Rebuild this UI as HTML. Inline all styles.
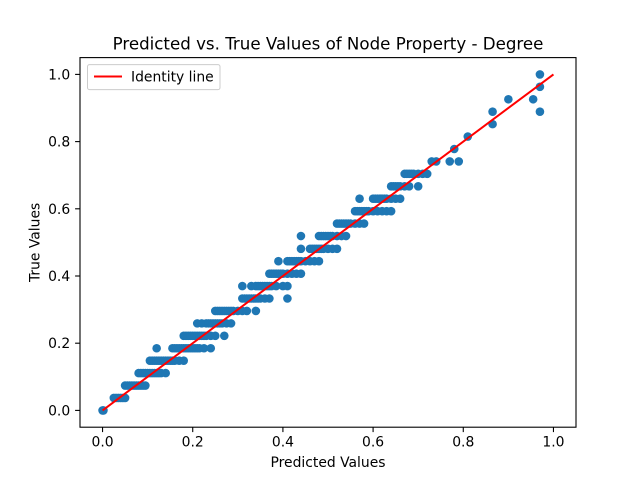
<!DOCTYPE html>
<html><head><meta charset="utf-8"><style>
body{margin:0;background:#fff}
svg text{font-family:"DejaVu Sans","Liberation Sans",sans-serif;fill:#000}
</style></head><body>
<svg id="chart" width="640" height="480" viewBox="0 0 640 480">
<rect width="640" height="480" fill="#fff"/>
<text x="328" y="49.5" text-anchor="middle" font-size="16.67">Predicted vs. True Values of Node Property - Degree</text>
<g id="plot"></g>
<rect x="80" y="57.6" width="496" height="369.6" fill="none" stroke="#000" stroke-width="1.1"/>
<g id="xt"></g><g id="yt"></g>
<text x="328" y="467" text-anchor="middle" font-size="13.9">Predicted Values</text>
<text transform="translate(39.5,242.4) rotate(-90)" text-anchor="middle" font-size="13.9">True Values</text>
<g>
<rect x="87.5" y="64.6" width="132.5" height="25" rx="2" fill="#fff" fill-opacity="0.8" stroke="#ccc" stroke-width="1"/>
<line x1="94" y1="76.5" x2="122" y2="76.5" stroke="red" stroke-width="2"/>
<text x="131" y="81.5" font-size="13.9">Identity line</text>
</g>
</svg>
<script>
const truthLevels=[0,0.037,0.074,0.111,0.148,0.185,0.222,0.259,0.296,0.333,0.370,0.407,0.444,0.481,0.519,0.556,0.593,0.630,0.667,0.704,0.741,0.778,0.815,0.852,0.889,0.926,0.963,1.0];
const predictedByLevel=[
[0,0.002],
[0.025,0.03,0.035,0.04,0.045,0.05],
[0.05,0.055,0.06,0.065,0.07,0.075,0.08,0.085,0.09,0.095],
[0.08,0.085,0.09,0.095,0.1,0.105,0.11,0.115,0.12,0.125,0.13,0.14],
[0.105,0.11,0.115,0.12,0.125,0.13,0.135,0.14,0.145,0.15,0.155,0.16,0.17,0.18],
[0.12,0.155,0.16,0.165,0.17,0.175,0.18,0.185,0.19,0.195,0.2,0.205,0.21,0.215,0.225,0.24],
[0.18,0.185,0.19,0.195,0.2,0.205,0.21,0.215,0.22,0.225,0.23,0.24,0.25,0.27],
[0.21,0.22,0.23,0.235,0.24,0.245,0.25,0.255,0.26,0.265,0.275,0.285],
[0.25,0.255,0.26,0.265,0.27,0.275,0.28,0.285,0.29,0.3,0.31,0.32,0.34],
[0.31,0.315,0.32,0.325,0.33,0.335,0.34,0.345,0.35,0.36,0.37,0.41],
[0.31,0.33,0.34,0.345,0.35,0.355,0.36,0.365,0.37,0.375,0.385,0.4,0.41],
[0.37,0.375,0.38,0.385,0.39,0.395,0.4,0.41,0.42,0.43,0.44],
[0.39,0.41,0.415,0.42,0.425,0.43,0.435,0.44,0.45,0.46,0.47,0.48],
[0.44,0.46,0.465,0.47,0.475,0.48,0.485,0.49,0.5,0.51,0.52],
[0.44,0.48,0.485,0.49,0.495,0.5,0.505,0.51,0.52,0.53,0.54],
[0.52,0.525,0.53,0.535,0.54,0.545,0.55,0.56,0.57,0.58],
[0.56,0.565,0.57,0.575,0.58,0.585,0.59,0.6,0.61,0.62,0.63,0.64],
[0.57,0.6,0.605,0.61,0.615,0.62,0.625,0.63,0.64,0.65,0.66],
[0.64,0.645,0.65,0.655,0.66,0.67,0.68,0.7],
[0.67,0.675,0.68,0.685,0.69,0.7,0.71,0.72],
[0.73,0.74,0.77,0.79],
[0.78],[0.81],[0.865],[0.865,0.97],[0.9,0.955],[0.97],[0.97]
];
const identityLine=[0,1];
const xTicks=[0,0.2,0.4,0.6,0.8,1.0];
const yTicks=[0,0.2,0.4,0.6,0.8,1.0];
const xTickLabels=["0.0","0.2","0.4","0.6","0.8","1.0"];
const yTickLabels=["0.0","0.2","0.4","0.6","0.8","1.0"];

const NS="http://www.w3.org/2000/svg";
const X=v=>80+(v+0.05)/1.1*496;
const Y=v=>427.2-(v+0.05)/1.1*369.6;
function mk(t,a,p){const e=document.createElementNS(NS,t);for(const k in a)e.setAttribute(k,a[k]);p.appendChild(e);return e;}
const plot=document.getElementById('plot');
truthLevels.forEach((t,i)=>{predictedByLevel[i].forEach(p=>{
 const c=mk('circle',{cx:X(p),cy:Y(t),r:4.3,fill:'#1f77b4'},plot);
 
 
});});
const ln=mk('line',{x1:X(identityLine[0]),y1:Y(identityLine[0]),x2:X(identityLine[1]),y2:Y(identityLine[1]),stroke:'red','stroke-width':2},plot);


const xt=document.getElementById('xt'),yt=document.getElementById('yt');
xTicks.forEach((v,i)=>{
 const l=mk('line',{x1:X(v),x2:X(v),y1:427.2,y2:432.1,stroke:'#000','stroke-width':1.1},xt);
 
 
 const t=mk('text',{x:X(v),y:446.5,'text-anchor':'middle','font-size':13.9},xt);t.textContent=xTickLabels[i];
 
 
});
yTicks.forEach((v,i)=>{
 const l=mk('line',{x1:75.1,x2:80,y1:Y(v),y2:Y(v),stroke:'#000','stroke-width':1.1},yt);
 
 
 const t=mk('text',{x:70.2,y:Y(v)+5,'text-anchor':'end','font-size':13.9},yt);t.textContent=yTickLabels[i];
 
 
});
</script>
</body></html>
